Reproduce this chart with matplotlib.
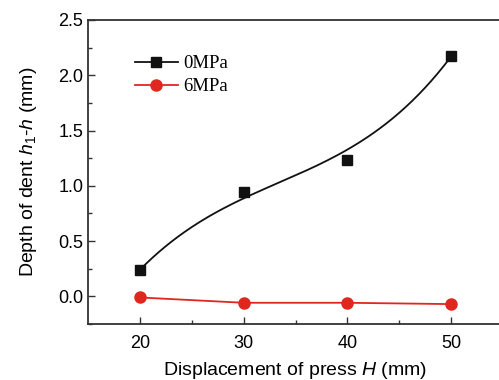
import numpy as np
import matplotlib
matplotlib.use("Agg")
import matplotlib.pyplot as plt
from matplotlib.lines import Line2D
from math import comb

# Data
H = [20, 30, 40, 50]
dent_0MPa = [0.24, 0.94, 1.23, 2.17]
dent_6MPa = [-0.01, -0.058, -0.058, -0.07]
xticks = [20, 30, 40, 50]
yticks = [0.0, 0.5, 1.0, 1.5, 2.0, 2.5]

plt.rcParams['font.family'] = ['Liberation Sans', 'DejaVu Sans']
plt.rcParams['mathtext.fontset'] = 'custom'
plt.rcParams['mathtext.rm'] = 'Liberation Sans'
plt.rcParams['mathtext.it'] = 'Liberation Sans:italic'

fig = plt.figure(figsize=(4.99, 3.80), dpi=100)
ax = fig.add_axes([88/499, 56/380, (503-88)/499, (324-20)/380])

# smooth curve for 0MPa: blend of Bezier (B-spline) and interpolating cubic
xs = np.array(H, float)
ys = np.array(dent_0MPa, float)
t = np.linspace(0, 1, 200)
n = len(xs) - 1
bx = sum(comb(n, i) * (1-t)**(n-i) * t**i * xs[i] for i in range(n+1))
by = sum(comb(n, i) * (1-t)**(n-i) * t**i * ys[i] for i in range(n+1))
coef = np.polyfit(xs, ys, 3)
iy = np.polyval(coef, bx)
w = 0.55
cy = w * by + (1 - w) * iy
black = '#111111'
ax.plot(bx, cy, color=black, lw=1.3, zorder=2)
ax.plot(H, dent_0MPa, ls='none', marker='s', ms=7, color=black, zorder=3)

red = '#e0271f'
ax.plot(H, dent_6MPa, color=red, lw=1.3, marker='o', ms=8, zorder=3)

h1 = Line2D([], [], color=black, lw=1.3, marker='s', ms=7)
h2 = Line2D([], [], color=red, lw=1.3, marker='o', ms=8)
ax.legend([h1, h2], ['0MPa', '6MPa'], loc='upper left', bbox_to_anchor=(0.113, 0.885),
          frameon=False, borderpad=0, borderaxespad=0,
          handlelength=2.3, handletextpad=0.3, labelspacing=0.33,
          prop={'family': 'Liberation Serif', 'size': 13.5})

ax.set_xlim(15, 55)
ax.set_ylim(-0.25, 2.5)
ax.set_xticks(xticks)
ax.set_yticks(yticks)
ax.set_yticklabels([f'{v:.1f}' for v in yticks])
ax.set_xticks([25, 35, 45], minor=True)
ax.set_yticks([-0.25, 0.25, 0.75, 1.25, 1.75, 2.25], minor=True)
ax.tick_params(which='both', direction='in', labelsize=13, width=1.0, color='#333333')
ax.tick_params(which='major', length=5)
ax.tick_params(which='minor', length=3)
ax.tick_params(axis='x', pad=8)
for s in ax.spines.values():
    s.set_linewidth(1.3)
    s.set_color('#333333')

ax.set_xlabel('Displacement of press $\\mathit{H}$ (mm)', fontsize=14, labelpad=6)
ax.set_ylabel('Depth of dent $\\mathit{h}_\\mathit{1}$-$\\mathit{h}$ (mm)', fontsize=14, labelpad=14)

fig.savefig('out.png', dpi=100)
